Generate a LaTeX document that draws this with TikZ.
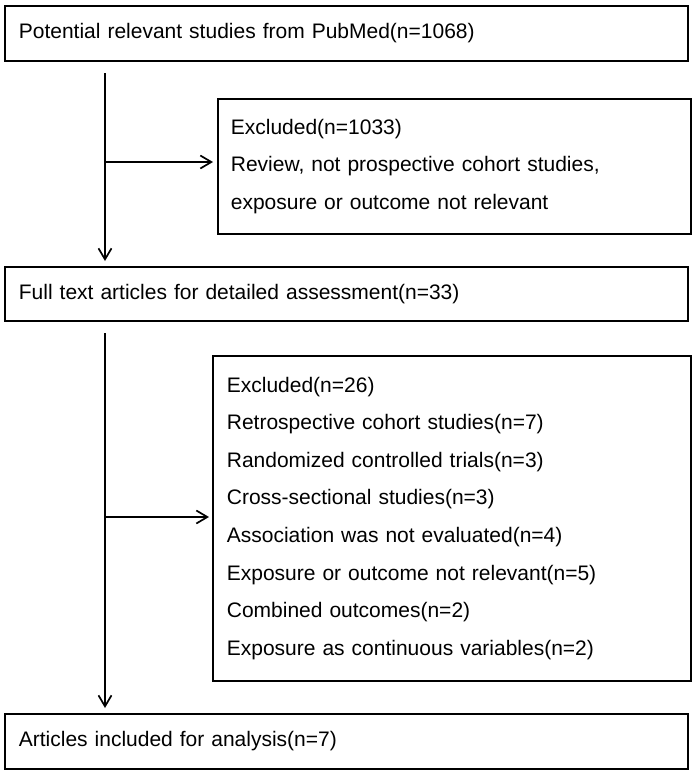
\documentclass[tikz,border=0pt]{standalone}
\usepackage{fontspec}
\setmainfont{Liberation Sans}
\usetikzlibrary{positioning}
\usetikzlibrary{arrows.meta}
\newcommand\boxfont{\fontsize{21}{37.6}\selectfont\spaceskip=0.2em\relax}
\tikzset{
    mybox/.style = {rectangle, draw=black, line width=1.7pt, anchor=north west, align=left, inner ysep=0pt, font=\boxfont, text=black},
    edgea/.style = {line width=1.7pt, black, -{Straight Barb[length=11pt,width=13pt,line width=1.7pt]}},
}
\begin{document}
\begin{tikzpicture}[x=1pt,y=-1pt]
%
\node[mybox, text width=655pt, inner xsep=14pt, minimum height=55pt] at (4,5) (pub) {Potential relevant studies from PubMed(n=1068)};
\node[mybox, text width=447pt, inner xsep=13pt, minimum height=135pt] at (217,98) (exc1) {Excluded(n=1033)\\Review, not prospective cohort studies,\\exposure or outcome not relevant};
\node[mybox, text width=655pt, inner xsep=14pt, minimum height=54pt] at (4,266) (full) {Full text articles for detailed assessment(n=33)};
\node[mybox, text width=450pt, inner xsep=14pt, minimum height=325pt] at (212,355) (exc2) {Excluded(n=26)\\Retrospective cohort studies(n=7)\\Randomized controlled trials(n=3)\\Cross-sectional studies(n=3)\\Association was not evaluated(n=4)\\Exposure or outcome not relevant(n=5)\\Combined outcomes(n=2)\\Exposure as continuous variables(n=2)};
\node[mybox, text width=655pt, inner xsep=14pt, minimum height=55pt] at (4,713) (incl) {Articles included for analysis(n=7)};
%
\coordinate (s1) at (105,73);
\coordinate (b1) at (105,162);
\coordinate (s2) at (105,333);
\coordinate (b2) at (105,517);
%
\draw[edgea,shorten >=5pt] (s1) -- (s1 |- full.north);
\draw[edgea,shorten >=4pt] (b1) -- (b1 -| exc1.west);
\draw[edgea,shorten >=5pt] (s2) -- (s2 |- incl.north);
\draw[edgea,shorten >=3pt] (b2) -- (b2 -| exc2.west);

\path[use as bounding box] (0,0) rectangle (696,774);

\end{tikzpicture}
\end{document}
